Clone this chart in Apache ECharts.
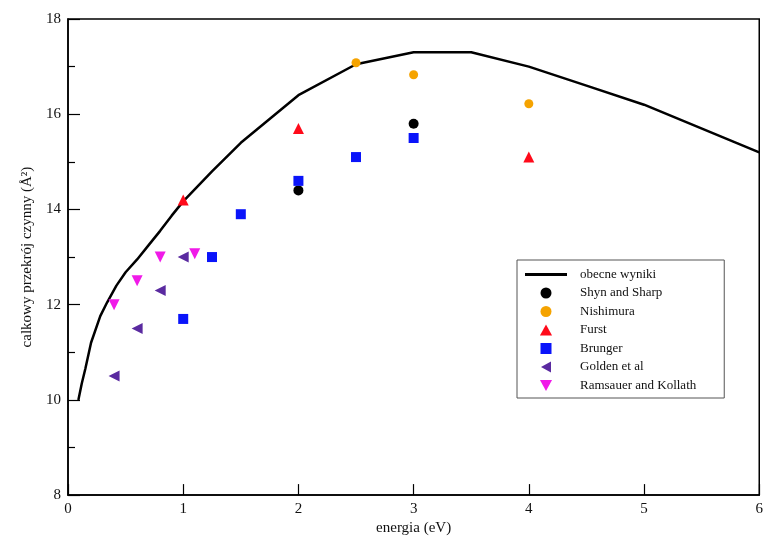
<!DOCTYPE html>
<html>
<head>
<meta charset="utf-8">
<script src="https://cdn.jsdelivr.net/npm/echarts@6/dist/echarts.min.js"></script>
<style>html,body{margin:0;padding:0;background:#fff;}#c{width:766px;height:541px;}</style>
</head>
<body>
<div id="c"></div>
<script>
// Curve: obecne wyniki
const curveX = [0.09, 0.12, 0.15, 0.2, 0.28, 0.34, 0.42, 0.5, 0.6, 0.7, 0.8, 0.9, 1.0, 1.25, 1.5, 1.75, 2.0, 2.5, 3.0, 3.5, 4.0, 4.5, 5.0, 6.0];
const curveY = [10.0, 10.35, 10.65, 11.2, 11.76, 12.05, 12.4, 12.68, 12.95, 13.25, 13.55, 13.87, 14.17, 14.8, 15.4, 15.9, 16.4, 17.05, 17.3, 17.3, 17.0, 16.6, 16.2, 15.2];

const shynX = [2, 3];
const shynY = [14.4, 15.8];

const nishimuraX = [2.5, 3, 4];
const nishimuraY = [17.08, 16.83, 16.22];

const furstX = [1, 2, 4];
const furstY = [14.2, 15.7, 15.1];

const brungerX = [1, 1.25, 1.5, 2, 2.5, 3];
const brungerY = [11.7, 13.0, 13.9, 14.6, 15.1, 15.5];

const goldenX = [0.4, 0.6, 0.8, 1.0];
const goldenY = [10.5, 11.5, 12.3, 13.0];

const ramsauerX = [0.4, 0.6, 0.8, 1.1];
const ramsauerY = [12.0, 12.5, 13.0, 13.07];

const seriesNames = ['obecne wyniki', 'Shyn and Sharp', 'Nishimura', 'Furst', 'Brunger', 'Golden et al', 'Ramsauer and Kollath'];
const xTicks = [0, 1, 2, 3, 4, 5, 6];
const yTicks = [8, 10, 12, 14, 16, 18];

const pairs = (xs, ys) => xs.map((x, i) => [x, ys[i]]);
const FONT = '"Liberation Serif", "Times New Roman", serif';

const colors = ['#000000', '#000000', '#f5a300', '#ff0a1a', '#0a14fa', '#5a2aa0', '#f01ae8'];
const symbols = ['none', 'circle', 'circle', 'triangle', 'rect', 'triangle', 'triangle'];
const rotations = [0, 0, 0, 0, 0, 90, 180];
const sizes = [0, 10, 9, 11, 10, 11, 11];
const legendIcons = [
  'path://M0,0L42,0L42,3L0,3Z',
  'circle',
  'circle',
  'path://M5.5,0L11,10L0,10Z',
  'path://M0,0L10,0L10,10L0,10Z',
  'path://M0,5.5L10,0L10,11Z',
  'path://M0,0L11,0L5.5,10Z'
];

const chart = echarts.init(document.getElementById('c'));
const scatterSeries = [
  [shynX, shynY], [nishimuraX, nishimuraY], [furstX, furstY], [brungerX, brungerY], [goldenX, goldenY], [ramsauerX, ramsauerY]
].map((d, k) => {
  const i = k + 1;
  return {
    name: seriesNames[i], type: 'scatter', data: pairs(d[0], d[1]),
    symbol: symbols[i], symbolSize: sizes[i], symbolRotate: rotations[i], symbolKeepAspect: true,
    itemStyle: { color: colors[i], opacity: 1 }, z: 3
  };
});

chart.setOption({
  animation: false,
  backgroundColor: '#fff',
  grid: { left: 68, right: 6, top: 19, bottom: 45, show: true, borderColor: '#000', borderWidth: 1.5, backgroundColor: 'transparent' },
  xAxis: {
    type: 'value', min: xTicks[0], max: xTicks[xTicks.length - 1], interval: 1,
    name: 'energia (eV)', nameLocation: 'middle', nameGap: 25,
    nameTextStyle: { fontFamily: FONT, fontSize: 15, color: '#111' },
    axisLine: { show: true, lineStyle: { color: '#000', width: 1.5 } },
    axisTick: { show: true, inside: true, length: 11, lineStyle: { color: '#000', width: 1.2 } },
    axisLabel: { fontFamily: FONT, fontSize: 15, color: '#111', margin: 6 },
    splitLine: { show: false }
  },
  yAxis: {
    type: 'value', min: yTicks[0], max: yTicks[yTicks.length - 1], interval: 2,
    name: 'calkowy przekrój czynny (Å²)', nameLocation: 'middle', nameGap: 33, nameRotate: 90,
    nameTextStyle: { fontFamily: FONT, fontSize: 15, color: '#111' },
    axisLine: { show: true, lineStyle: { color: '#000', width: 1.5 } },
    axisTick: { show: true, inside: true, length: 12, lineStyle: { color: '#000', width: 1.2 } },
    minorTick: { show: true, splitNumber: 2, length: 7, lineStyle: { color: '#000', width: 1.2 } },
    axisLabel: { fontFamily: FONT, fontSize: 15, color: '#111', margin: 7 },
    splitLine: { show: false }
  },
  legend: {
    orient: 'vertical', left: 517, top: 260,
    padding: [8, 28, 6, 8], itemGap: 5.5, itemWidth: 42, itemHeight: 11,
    symbolKeepAspect: true,
    borderColor: '#555', borderWidth: 1, backgroundColor: '#fff',
    textStyle: { fontFamily: FONT, fontSize: 13, color: '#111', padding: [0, 0, 0, 8] },
    data: seriesNames.map((n, i) => ({ name: n, icon: legendIcons[i], itemStyle: { color: colors[i] } }))
  },
  series: [
    { name: seriesNames[0], type: 'line', data: pairs(curveX, curveY), smooth: false, showSymbol: false, symbol: 'none',
      lineStyle: { color: '#000', width: 2.5 }, itemStyle: { color: '#000' }, z: 2 }
  ].concat(scatterSeries)
});
</script>
</body>
</html>
